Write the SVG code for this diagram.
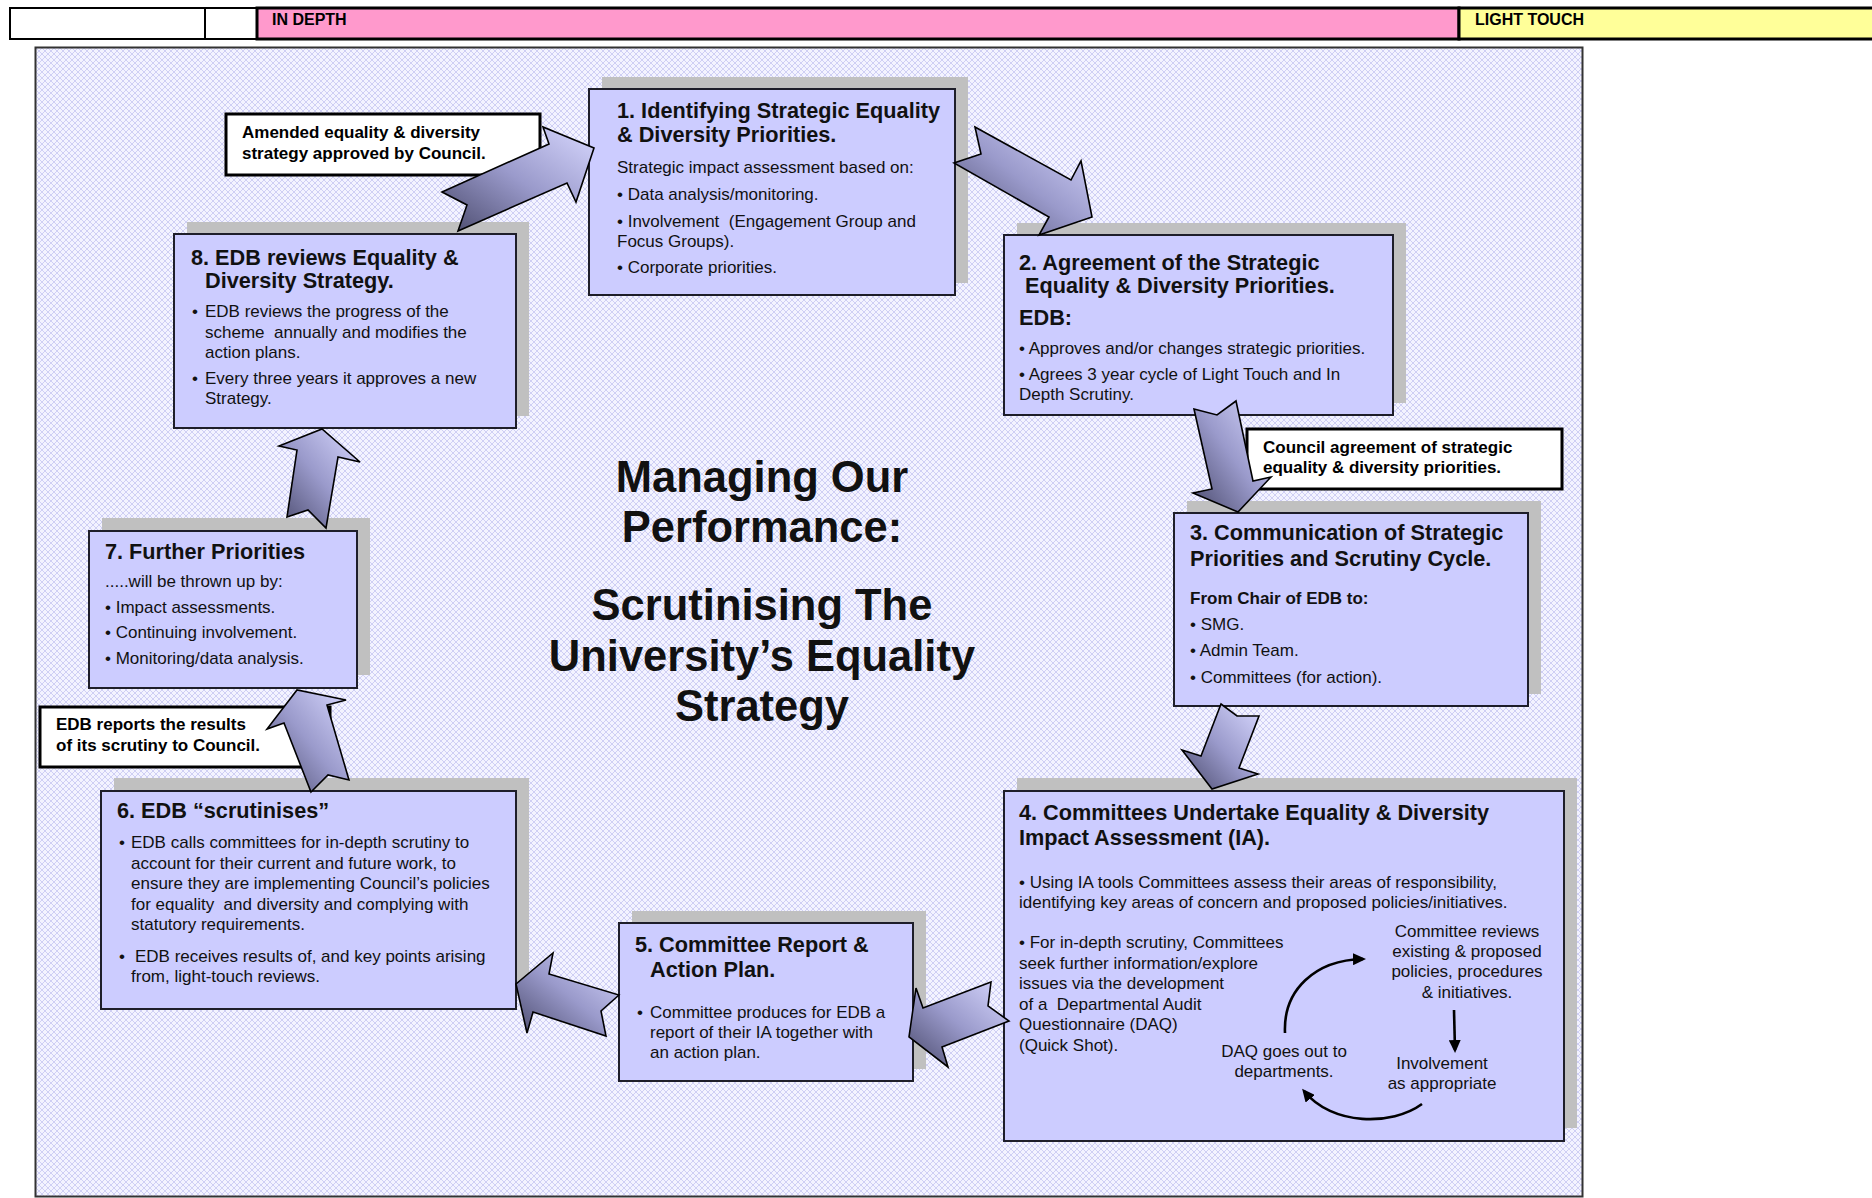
<svg xmlns="http://www.w3.org/2000/svg" width="1872" height="1198" viewBox="0 0 1872 1198">
  <defs>
    <pattern id="hatch" width="6" height="6" patternUnits="userSpaceOnUse">
      <rect width="6" height="6" fill="#f3f3ff"/>
      <path d="M0,0 L6,6 M6,0 L0,6" stroke="#cfcff4" stroke-width="1"/>
    </pattern>
    <linearGradient id="arrowGrad" x1="0" y1="1" x2="1" y2="0">
      <stop offset="0" stop-color="#4a4a6c"/>
      <stop offset="0.5" stop-color="#9a9acb"/>
      <stop offset="1" stop-color="#d8d8ff"/>
    </linearGradient>
    <marker id="head" markerWidth="13" markerHeight="12" refX="10" refY="6" orient="auto" markerUnits="userSpaceOnUse">
      <path d="M0,0 L13,6 L0,12 z" fill="#000"/>
    </marker>
  </defs>
  <style>
    .t { font-family: "Liberation Sans", Arial, sans-serif; font-size: 17px; fill: #111; }
    .h { font-weight: bold; font-size: 21.7px; }
    .b { font-weight: bold; }
    .lb { font-weight: bold; font-size: 17px; fill: #000; }
    .title { font-family: "Liberation Sans", Arial, sans-serif; font-weight: bold; font-size: 43.5px; fill: #111; text-anchor: middle; }
    .mid { text-anchor: middle; }
    .pre { white-space: pre; }
    .box { fill: #ccccff; stroke: #1e1e2a; stroke-width: 2; }
    .shadow { fill: #c0c0c0; }
    .label { fill: #ffffff; stroke: #000; stroke-width: 3; }
    .arrow { fill: url(#arrowGrad); stroke: #000; stroke-width: 1.6; stroke-linejoin: miter; }
    .cyc { fill: none; stroke: #000; stroke-width: 2.6; marker-end: url(#head); }
    .hdr { font-family: "Liberation Sans", Arial, sans-serif; font-weight: bold; font-size: 16px; fill: #000; }
  </style>

  <!-- header strip -->
  <g id="header">
    <rect x="10" y="8" width="195" height="31" fill="#ffffff" stroke="#000" stroke-width="2"/>
    <rect x="205" y="8" width="52" height="31" fill="#ffffff" stroke="#000" stroke-width="2"/>
    <rect x="257" y="8" width="1202" height="31" fill="#ff99cc" stroke="#000" stroke-width="3"/>
    <rect x="1459" y="8" width="430" height="31" fill="#ffff99" stroke="#000" stroke-width="3"/>
    <text class="hdr" x="272" y="25">IN DEPTH</text>
    <text class="hdr" x="1475" y="25">LIGHT TOUCH</text>
  </g>

  <!-- patterned panel -->
  <rect id="panel" x="35.5" y="47.5" width="1547" height="1149" fill="url(#hatch)" stroke="#333" stroke-width="2"/>

  <!-- central title -->
  <g id="title">
    <text class="title" x="762" y="492">Managing Our</text>
    <text class="title" x="762" y="542">Performance:</text>
    <text class="title" x="762" y="620">Scrutinising The</text>
    <text class="title" x="762" y="671">University’s Equality</text>
    <text class="title" x="762" y="721">Strategy</text>
  </g>

  <!-- 1 -->
  <g id="node-1">
    <rect class="shadow" x="602" y="77" width="366" height="206"/>
    <rect class="box" x="589" y="89" width="366" height="206"/>
    <text class="t h" x="617" y="118">1. Identifying Strategic Equality</text>
    <text class="t h" x="617" y="142">&amp; Diversity Priorities.</text>
    <text class="t" x="617" y="173">Strategic impact assessment based on:</text>
    <text class="t" x="617" y="200">• Data analysis/monitoring.</text>
    <text class="t pre" x="617" y="227">• Involvement  (Engagement Group and</text>
    <text class="t" x="617" y="247">Focus Groups).</text>
    <text class="t" x="617" y="273">• Corporate priorities.</text>
  </g>

  <!-- 2 -->
  <g id="node-2">
    <rect class="shadow" x="1017" y="223" width="389" height="180"/>
    <rect class="box" x="1004" y="235" width="389" height="180"/>
    <text class="t h" x="1019" y="270">2. Agreement of the Strategic</text>
    <text class="t h" x="1025" y="293">Equality &amp; Diversity Priorities.</text>
    <text class="t h" x="1019" y="325">EDB:</text>
    <text class="t" x="1019" y="354">• Approves and/or changes strategic priorities.</text>
    <text class="t" x="1019" y="380">• Agrees 3 year cycle of Light Touch and In</text>
    <text class="t" x="1019" y="400">Depth Scrutiny.</text>
  </g>

  <!-- 3 -->
  <g id="node-3">
    <rect class="shadow" x="1187" y="501" width="354" height="193"/>
    <rect class="box" x="1174" y="513" width="354" height="193"/>
    <text class="t h" x="1190" y="540">3. Communication of Strategic</text>
    <text class="t h" x="1190" y="566">Priorities and Scrutiny Cycle.</text>
    <text class="t b" x="1190" y="604">From Chair of EDB to:</text>
    <text class="t" x="1190" y="630">• SMG.</text>
    <text class="t" x="1190" y="656">• Admin Team.</text>
    <text class="t" x="1190" y="683">• Committees (for action).</text>
  </g>

  <!-- 4 -->
  <g id="node-4">
    <rect class="shadow" x="1017" y="778" width="560" height="350"/>
    <rect class="box" x="1004" y="791" width="560" height="350"/>
    <text class="t h" x="1019" y="820">4. Committees Undertake Equality &amp; Diversity</text>
    <text class="t h" x="1019" y="845">Impact Assessment (IA).</text>
    <text class="t" x="1019" y="888">• Using IA tools Committees assess their areas of responsibility,</text>
    <text class="t" x="1019" y="908">identifying key areas of concern and proposed policies/initiatives.</text>
    <text class="t" x="1019" y="948">• For in-depth scrutiny, Committees</text>
    <text class="t" x="1019" y="969">seek further information/explore</text>
    <text class="t" x="1019" y="989">issues via the development</text>
    <text class="t pre" x="1019" y="1010">of a  Departmental Audit</text>
    <text class="t" x="1019" y="1030">Questionnaire (DAQ)</text>
    <text class="t" x="1019" y="1051">(Quick Shot).</text>
    <text class="t mid" x="1467" y="937">Committee reviews</text>
    <text class="t mid" x="1467" y="957">existing &amp; proposed</text>
    <text class="t mid" x="1467" y="977">policies, procedures</text>
    <text class="t mid" x="1467" y="998">&amp; initiatives.</text>
    <text class="t mid" x="1442" y="1069">Involvement</text>
    <text class="t mid" x="1442" y="1089">as appropriate</text>
    <text class="t mid" x="1284" y="1057">DAQ goes out to</text>
    <text class="t mid" x="1284" y="1077">departments.</text>
    <path class="cyc" d="M1285,1033 C1283,990 1315,960 1363,959"/>
    <path class="cyc" d="M1454,1010 L1455,1050"/>
    <path class="cyc" d="M1422,1104 C1392,1126 1332,1126 1304,1091"/>
  </g>

  <!-- 5 -->
  <g id="node-5">
    <rect class="shadow" x="632" y="911" width="294" height="158"/>
    <rect class="box" x="619" y="923" width="294" height="158"/>
    <text class="t h" x="635" y="952">5. Committee Report &amp;</text>
    <text class="t h" x="650" y="977">Action Plan.</text>
    <text class="t" x="637" y="1018">•</text>
    <text class="t" x="650" y="1018">Committee produces for EDB a</text>
    <text class="t" x="650" y="1038">report of their IA together with</text>
    <text class="t" x="650" y="1058">an action plan.</text>
  </g>

  <!-- 6 -->
  <g id="node-6">
    <rect class="shadow" x="114" y="778" width="415" height="218"/>
    <rect class="box" x="101" y="791" width="415" height="218"/>
    <text class="t h" x="117" y="818">6. EDB “scrutinises”</text>
    <text class="t" x="119" y="848">•</text>
    <text class="t" x="131" y="848">EDB calls committees for in-depth scrutiny to</text>
    <text class="t" x="131" y="869">account for their current and future work, to</text>
    <text class="t" x="131" y="889">ensure they are implementing Council’s policies</text>
    <text class="t pre" x="131" y="910">for equality  and diversity and complying with</text>
    <text class="t" x="131" y="930">statutory requirements.</text>
    <text class="t" x="119" y="962">•</text>
    <text class="t" x="135" y="962">EDB receives results of, and key points arising</text>
    <text class="t" x="131" y="982">from, light-touch reviews.</text>
  </g>

  <!-- 7 -->
  <g id="node-7">
    <rect class="shadow" x="102" y="518" width="268" height="157"/>
    <rect class="box" x="89" y="531" width="268" height="157"/>
    <text class="t h" x="105" y="559">7. Further Priorities</text>
    <text class="t" x="105" y="587">.....will be thrown up by:</text>
    <text class="t" x="105" y="613">• Impact assessments.</text>
    <text class="t" x="105" y="638">• Continuing involvement.</text>
    <text class="t" x="105" y="664">• Monitoring/data analysis.</text>
  </g>

  <!-- 8 -->
  <g id="node-8">
    <rect class="shadow" x="187" y="222" width="342" height="194"/>
    <rect class="box" x="174" y="234" width="342" height="194"/>
    <text class="t h" x="191" y="265">8. EDB reviews Equality &amp;</text>
    <text class="t h" x="205" y="288">Diversity Strategy.</text>
    <text class="t" x="192" y="317">•</text>
    <text class="t" x="205" y="317">EDB reviews the progress of the</text>
    <text class="t pre" x="205" y="338">scheme  annually and modifies the</text>
    <text class="t" x="205" y="358">action plans.</text>
    <text class="t" x="192" y="384">•</text>
    <text class="t" x="205" y="384">Every three years it approves a new</text>
    <text class="t" x="205" y="404">Strategy.</text>
  </g>

  <!-- white callouts on the cycle -->
  <g id="label-amended">
    <rect class="label" x="226" y="114" width="314" height="61"/>
    <text class="t lb" x="242" y="138">Amended equality &amp; diversity</text>
    <text class="t lb" x="242" y="159">strategy approved by Council.</text>
  </g>
  <g id="label-council">
    <rect class="label" x="1247" y="429" width="315" height="60"/>
    <text class="t lb" x="1263" y="453">Council agreement of strategic</text>
    <text class="t lb" x="1263" y="473">equality &amp; diversity priorities.</text>
  </g>
  <g id="label-reports">
    <rect class="label" x="40" y="707" width="290" height="60"/>
    <text class="t lb" x="56" y="730">EDB reports the results</text>
    <text class="t lb" x="56" y="751">of its scrutiny to Council.</text>
  </g>

  <!-- block arrows between the stages -->
  <g id="connectors">
    <polygon class="arrow" points="442,192 549,144 543,127 594,148 576,202 567,183 458,231 467,205"/>
    <polygon class="arrow" points="975,127 1071,180 1081,161 1092,217 1039,235 1049,217 954,163 981,154"/>
    <polygon class="arrow" points="1194,409 1217,415 1236,401 1253,481 1271,477 1238,512 1193,493 1212,489"/>
    <polygon class="arrow" points="1221,704 1237,716 1259,716 1239,768 1258,774 1212,789 1182,750 1201,756"/>
    <polygon class="arrow" points="991,982 988,1006 1009,1021 942,1047 948,1067 909,1037 916,988 923,1008"/>
    <polygon class="arrow" points="619,995 601,1011 606,1036 533,1012 527,1033 516,984 553,953 549,974"/>
    <polygon class="arrow" points="311,792 328,775 349,780 327,705 346,700 297,690 267,729 284,723"/>
    <polygon class="arrow" points="287,517 308,510 326,528 338,457 360,462 322,429 279,446 297,450"/>
  </g>
</svg>
